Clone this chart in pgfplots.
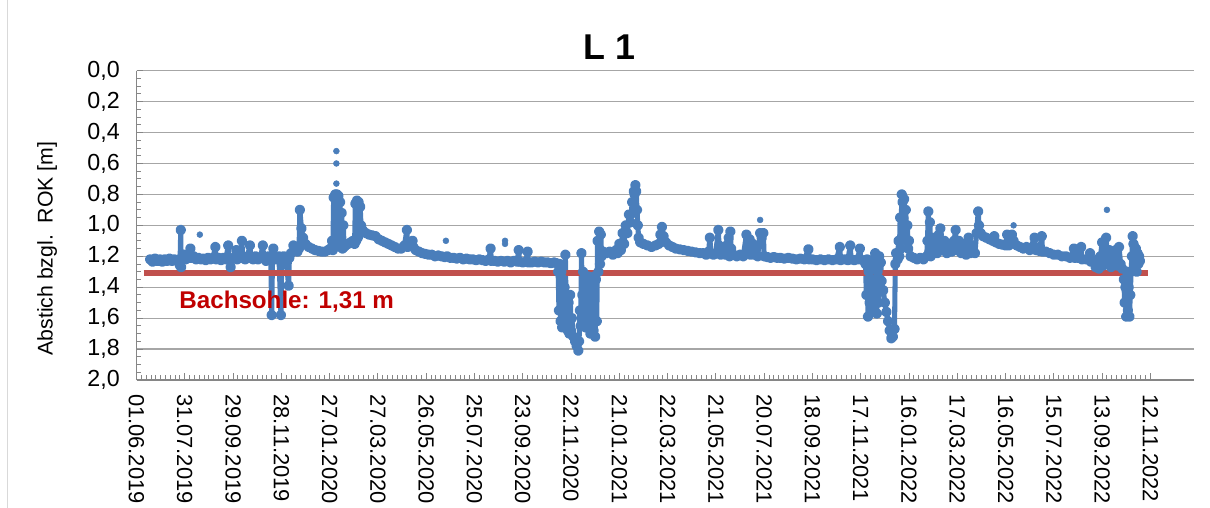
\documentclass[border=0pt]{standalone}
\usepackage{fontspec}
\setmainfont{Liberation Sans}
\usepackage{pgfplots}
\pgfplotsset{compat=1.18}
\definecolor{ptblue}{RGB}{74,126,187}
\definecolor{redline}{RGB}{192,80,77}
\definecolor{labred}{RGB}{192,0,0}
\definecolor{gridgray}{RGB}{166,166,166}
\definecolor{axgray}{RGB}{134,134,134}
\begin{document}
\begin{tikzpicture}
\begin{axis}[
  at={(0,0)}, anchor=south west,
  scale only axis, width=793bp, height=232bp,
  xmin=0, xmax=1314, ymin=0, ymax=2, y dir=reverse,
  axis x line*=bottom, axis y line*=left,
  axis line style={axgray, line width=0.9bp},
  xtick={0,60,...,1260},
  xticklabels={01.06.2019,31.07.2019,29.09.2019,28.11.2019,27.01.2020,27.03.2020,26.05.2020,25.07.2020,23.09.2020,22.11.2020,21.01.2021,22.03.2021,21.05.2021,20.07.2021,18.09.2021,17.11.2021,16.01.2022,17.03.2022,16.05.2022,15.07.2022,13.09.2022,12.11.2022},
  minor x tick num=9,
  ytick={0,0.2,0.4,0.6,0.8,1.0,1.2,1.4,1.6,1.8,2.0},
  minor y tick num=3,
  ymajorgrids, major grid style={gridgray, line width=0.9bp},
  tick align=inside,
  tick style={axgray, line width=0.7bp},
  major tick length=5bp, minor tick length=3.5bp,
  /pgf/number format/assume math mode=true,
  tick label style={text=black},
  yticklabel style={font=\fontsize{17.5}{20}\selectfont, /pgf/number format/.cd, use comma, fixed, fixed zerofill, precision=1},
  xticklabel style={font=\fontsize{16.5}{19}\selectfont, rotate=-90, anchor=west},
  xticklabel shift=7bp,
  yticklabel shift=9bp,
]
\addplot[ptblue, line width=3.8bp, line join=round, line cap=round, mark=*, mark size=2.0bp, mark options={draw=none, fill=ptblue}] coordinates {
(17,1.22)(20,1.235)(23,1.215)(26,1.23)(29,1.22)(32,1.235)(35,1.22)(38,1.23)(41,1.215)(44,1.23)(47,1.22)(50,1.23)(53,1.22)
(54,1.26)(55,1.03)(55.5,1.27)(57,1.21)
(59,1.19)(61,1.22)(63,1.19)(65,1.21)(67,1.15)(68,1.21)(71,1.2)(74,1.22)(77,1.21)(80,1.22)(83,1.215)(86,1.225)(89,1.21)(92,1.22)(95,1.21)(98,1.14)(99,1.22)(102,1.21)(105,1.225)(108,1.21)(111,1.22)(114,1.13)(115,1.21)(117,1.27)(118,1.22)(121,1.21)(124,1.16)(125,1.22)(128,1.2)(131,1.10)(132,1.21)(135,1.22)(138,1.2)(141,1.13)(142,1.21)(145,1.22)(148,1.2)(151,1.22)(154,1.21)(157,1.13)(158,1.21)(161,1.23)(164,1.2)(167,1.22)
(168,1.58)(169,1.22)(170,1.15)(171,1.21)(174,1.22)(177,1.2)
(179.5,1.58)(180.5,1.22)(183,1.2)(186,1.22)
(189,1.39)(190,1.21)(192,1.18)(195,1.13)(198,1.16)(200,1.17)
(202,1.15)(203,0.90)(205,1.02)(207,1.08)(210,1.12)(214,1.14)(218,1.15)(222,1.16)(226,1.165)(230,1.17)(234,1.17)(238,1.16)(241,1.15)(243,1.10)
(244,1.16)(245,0.82)(246,1.12)(247,0.80)(248,1.12)(249,0.80)(250,1.12)(251,0.81)(252,1.10)(253,0.85)(254,1.14)(255,0.92)(256,1.15)(257,1.0)(258,1.14)(260,1.13)(263,1.12)(266,1.11)(269,1.10)(271,1.12)(272,0.86)(273,1.10)(274,0.84)(275,1.08)(276,0.85)(277,1.05)(278,0.88)(279,1.0)(281,1.03)(285,1.05)(289,1.06)(293,1.065)(297,1.07)(301,1.09)(305,1.1)(309,1.11)(313,1.12)(317,1.13)(321,1.14)(325,1.15)
(329,1.15)(333,1.13)(336,1.03)(337,1.14)(340,1.12)(343,1.10)(344,1.14)(347,1.16)(351,1.17)(355,1.18)(359,1.185)(363,1.19)(367,1.19)(371,1.2)(375,1.195)(379,1.2)(383,1.205)(386,1.2)(390,1.21)(394,1.21)(398,1.215)(402,1.21)(406,1.22)(410,1.215)(414,1.22)(418,1.22)(422,1.225)(426,1.22)(430,1.225)(434,1.23)(438,1.22)(440,1.15)(441,1.23)(445,1.23)(449,1.235)(453,1.23)(457,1.235)(461,1.23)(465,1.24)(469,1.23)(473,1.235)(475,1.16)(476,1.235)(480,1.24)(484,1.235)(486,1.17)(487,1.24)(491,1.24)(495,1.235)(499,1.24)(503,1.235)(507,1.24)(511,1.24)(515,1.245)(519,1.24)(522,1.245)
(524,1.3)(525,1.55)(526,1.25)(527,1.62)(528,1.3)(529,1.66)(530,1.35)(531,1.65)(532,1.4)(533,1.19)(534,1.6)(535,1.45)(536,1.68)(537,1.5)(538,1.7)(539,1.45)(540,1.68)(541,1.6)(543,1.72)(545,1.75)(547,1.78)(549,1.81)(550,1.75)(551,1.55)(552,1.65)
(553,1.18)(554,1.45)(555,1.30)(556,1.60)(557,1.35)(558,1.66)(559,1.40)(560,1.62)(561,1.33)(562,1.66)(563,1.40)(564,1.70)(565,1.36)(566,1.64)(567,1.38)(568,1.68)(569,1.33)(570,1.72)(571,1.35)(572,1.62)
(573,1.10)(574,1.30)(575,1.04)(576,1.25)(577,1.06)(578,1.2)(580,1.17)(584,1.18)(588,1.17)(592,1.19)(596,1.16)(598,1.18)
(600,1.12)(602,1.16)(604,1.05)(606,1.12)(608,1.0)(610,1.05)(612,0.93)(614,0.98)(616,0.85)(617,0.92)(618,0.78)(619,0.8)(620,0.74)(621,0.78)(622,0.9)(623,1.0)(624,1.08)(626,1.11)(630,1.12)(635,1.13)(640,1.14)(645,1.13)(649,1.12)(651,1.06)(653,1.01)(655,1.07)(658,1.11)(662,1.13)(666,1.14)(670,1.15)(675,1.155)(680,1.16)(685,1.165)(690,1.17)(695,1.175)(700,1.18)(704,1.18)
(708,1.19)(711,1.17)(712.5,1.08)(714,1.18)(717,1.19)(720,1.18)(723,1.03)(724,1.13)(726,1.19)(729,1.17)(732,1.19)(735,1.12)(736,1.08)(737,1.2)(738,1.04)(739,1.15)(742,1.19)(746,1.2)(750,1.19)(754,1.2)(758,1.06)(759,1.15)(762,1.09)(763,1.19)(766,1.12)(768,1.19)(772,1.2)(775,1.05)(777,1.08)(779,1.05)(780,1.2)(784,1.205)(788,1.21)(792,1.205)(796,1.21)(800,1.21)(805,1.215)(810,1.21)(815,1.215)(820,1.22)(825,1.215)(830,1.22)(835,1.155)(836,1.22)(840,1.22)(845,1.225)(850,1.22)(855,1.225)(860,1.22)(865,1.225)(870,1.22)(874,1.14)(875,1.225)(880,1.22)(884,1.225)(887,1.13)(888,1.22)(892,1.225)(896,1.22)(899,1.15)(900,1.22)(904,1.23)
(906,1.25)(907,1.45)(908,1.22)(909,1.59)(910,1.30)(911,1.50)(912,1.25)(913,1.56)(914,1.35)(915,1.45)(916,1.22)(917,1.50)(918,1.18)(919,1.40)(920,1.57)(921,1.30)(922,1.50)(923,1.20)(924,1.35)(925,1.24)(926,1.36)(928,1.42)(930,1.50)(932,1.56)(934,1.62)(936,1.68)(938,1.73)(940,1.72)(942,1.67)
(943,1.25)(944,1.18)(946,1.22)(947,1.10)(948,1.20)(949,0.95)(950,1.15)(951,0.80)(952,0.85)(953,0.95)(954,0.83)(955,1.0)(956,0.9)(957,1.1)(958,1.0)(959,1.15)(960,1.1)(962,1.2)(966,1.21)(970,1.22)(974,1.21)(978,1.22)(982,1.2)
(983,1.1)(984,0.91)(985,1.18)(986,0.98)(987,1.2)(989,1.08)(991,1.17)(993,1.1)(995,1.18)(997,1.06)(999,1.02)(1001,1.15)(1004,1.1)(1007,1.18)(1010,1.12)(1013,1.17)(1016,1.1)(1018,1.03)(1019,1.16)(1022,1.10)(1025,1.18)(1028,1.12)(1031,1.19)(1034,1.08)(1036,1.18)(1039,1.13)(1042,1.18)(1044,1.05)(1046,0.91)(1047,1.0)(1049,1.05)(1052,1.07)(1056,1.08)(1060,1.09)(1064,1.10)(1066,1.07)(1068,1.11)(1072,1.12)(1076,1.125)(1080,1.13)(1082,1.06)(1084,1.13)(1088,1.06)(1090,1.10)(1094,1.13)(1098,1.14)(1102,1.15)(1106,1.14)(1110,1.16)(1116,1.08)(1118,1.16)(1122,1.165)(1125,1.07)(1126,1.17)(1130,1.17)(1135,1.18)(1140,1.19)(1145,1.19)(1150,1.20)(1155,1.20)(1160,1.21)(1165,1.15)(1166,1.21)(1170,1.21)(1174,1.14)(1175,1.22)(1180,1.22)(1185,1.18)(1186,1.235)(1190,1.24)(1192,1.27)(1194,1.22)(1196,1.28)(1198,1.20)(1200,1.11)(1201,1.26)(1203,1.19)(1205,1.08)(1207,1.24)(1209,1.16)(1211,1.27)(1213,1.20)(1215,1.25)(1217,1.16)(1219,1.26)(1221,1.14)(1223,1.25)(1225,1.28)
(1227,1.35)(1228,1.50)(1229,1.40)(1230,1.59)(1231,1.30)(1232,1.55)(1233,1.40)(1234,1.59)(1235,1.45)(1236,1.30)(1237,1.20)(1238,1.07)(1239,1.12)(1240,1.22)(1241,1.29)(1242,1.15)(1243,1.30)(1244,1.18)(1245,1.25)(1246,1.20)(1247,1.23)
};
\addplot[ptblue, only marks, mark=*, mark size=2.2bp, mark options={draw=none, fill=ptblue}] coordinates {
(78.7,1.06)(248.4,0.52)(248.4,0.60)(248.4,0.73)(384.5,1.10)(458,1.10)(458,1.12)(775,0.965)(1090,1.0)(1206,0.90)
};
\addplot[redline, line width=4.2bp] coordinates {(9,1.31)(1257,1.31)};
\node[anchor=west, inner sep=0pt, text=labred, font=\fontsize{18.2}{21}\selectfont\bfseries] at (axis cs:53,1.49) {Bachsohle: 1,31 m};
\end{axis}
\node[font=\fontsize{27}{30}\selectfont\bfseries] at (354.75bp,249.75bp) {L 1};
\node[rotate=90, font=\fontsize{16}{19}\selectfont] at (-67.1bp,98.6bp) {Abstich bzgl.\ \ ROK [m]};
\draw[gray!30, line width=0.75bp] (-96.4bp,-96bp) -- (-96.4bp,285bp);
\pgfresetboundingbox
\useasboundingbox (-102.375bp,-96bp) rectangle (805.125bp,285bp);
\end{tikzpicture}
\end{document}
